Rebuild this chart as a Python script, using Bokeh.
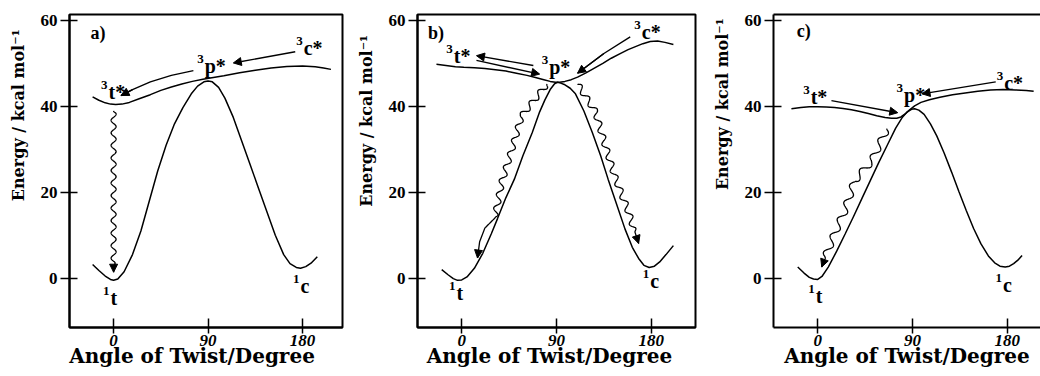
import numpy as np
from bokeh.plotting import figure
from bokeh.models import Range1d, FixedTicker, Arrow, NormalHead, LinearAxis
from bokeh.layouts import row
from bokeh.embed import file_html
from bokeh.resources import INLINE
from bokeh.core.properties import value

# ---------------- data ----------------
x_ticks = [0, 90, 180]
y_ticks = [0, 20, 40, 60]
x_label = "Angle of Twist/Degree"
y_label = "Energy / kcal mol\u207b\u00b9"
state_main = ["t*", "p*", "c*", "t", "c"]
state_sup = ["3", "3", "3", "1", "1"]

# panel a
a_s0_x = [-20, -14, -8, -3, 0, 4, 10, 18, 26, 34, 42, 50, 58, 66, 74, 80, 86, 90, 94, 100, 106, 114, 122, 130, 138, 146, 154, 162, 168, 174, 178, 183, 188, 194]
a_s0_y = [3.2, 1.8, 0.5, -0.3, -0.5, -0.2, 1.5, 5.5, 11, 18, 25, 31, 36, 39.8, 43, 44.8, 45.8, 46, 45.8, 44.5, 42, 37.5, 32, 26.5, 21, 15.5, 10, 5.5, 3.4, 2.5, 2.3, 2.7, 3.5, 5]
a_t1_x = [-20, -14, -8, -3, 2, 8, 15, 25, 35, 45, 55, 65, 75, 85, 95, 105, 120, 135, 150, 165, 180, 192, 200, 207]
a_t1_y = [42.3, 41.5, 40.9, 40.6, 40.5, 40.6, 41, 41.9, 42.8, 43.8, 44.6, 45.3, 45.9, 46.4, 46.8, 47.2, 47.9, 48.5, 49, 49.4, 49.5, 49.3, 49, 48.7]
a_arr1_x = [173, 114]            # 3c* -> 3p*
a_arr1_y = [52.8, 50.2]
a_arr2_x = [76, 55, 35, 18, 7]   # 3p* -> 3t*
a_arr2_y = [48.4, 47.3, 45.8, 44.0, 42.6]
a_wave_x = [0, 0]                # 3t* ~> 1t
a_wave_y = [39, 1.4]
a_lbl_x = [-4.8, 86.7, 181, -3, 178]
a_lbl_y = [43.5, 49.5, 53.7, -4.7, -1.9]

# panel b
b_s0_x = [-19, -13, -8, -4, 0, 5, 12, 20, 28, 34, 42, 50, 58, 67, 74, 79, 84, 88, 91, 94, 98, 103, 108, 116, 124, 132, 139, 147, 155, 162, 168, 173, 178, 183, 188, 194, 201]
b_s0_y = [2, 0.8, -0.1, -0.5, -0.4, 0.3, 2.3, 5.8, 10.3, 13.9, 18.8, 23.1, 28.5, 34, 38.8, 41.6, 44, 45.3, 45.7, 45.5, 45.1, 44.3, 43, 39, 34, 28.5, 23.1, 17.3, 11.5, 7.2, 4.6, 3, 2.5, 2.8, 3.8, 5.5, 7.6]
b_t1_x = [-24, -15, -6, 2, 12, 22, 32, 42, 52, 62, 70, 78, 84, 89, 93, 98, 104, 110, 118, 126, 134, 142, 150, 158, 165, 172, 179, 186, 193, 201]
b_t1_y = [49.9, 49.6, 49.3, 49.2, 49.1, 48.9, 48.6, 48.3, 47.8, 47.3, 46.8, 46.3, 45.9, 45.7, 45.7, 45.9, 46.3, 46.9, 47.9, 49.0, 50.1, 51.3, 52.3, 53.3, 54.0, 54.7, 55.2, 55.3, 55.0, 54.5]
b_arr1_x = [68, 14]              # 3p* -> 3t*
b_arr1_y = [49.6, 51.9]
b_arr2_x = [14, 74]              # 3t* -> 3p*
b_arr2_y = [50.8, 47.6]
b_arr3_x = [160, 135, 110]       # 3c* -> 3p*
b_arr3_y = [56.3, 52.4, 47.8]
b_wave1_x = [81, 56.8, 47.6, 38, 31.4, 22, 17, 15]
b_wave1_y = [45.3, 37.8, 30, 22.4, 14, 11.7, 8.5, 4.7]
b_wave2_x = [110, 127, 136, 146, 158, 168]
b_wave2_y = [45.3, 38.8, 31.2, 23.3, 15.7, 8.1]
b_lbl_x = [-7.6, 83, 171, -5, 179]
b_lbl_y = [51.9, 49.3, 57.5, -3.5, -0.7]

# panel c
c_s0_x = [-19, -13, -8, -4, 0, 4, 10, 18, 26, 34, 42, 50, 58, 66, 74, 80, 85, 89, 92, 96, 101, 107, 113, 120, 127, 134, 141, 148, 155, 162, 168, 173, 178, 182, 186, 190, 194]
c_s0_y = [2.6, 1.2, 0.2, -0.2, -0.3, 0.4, 2.6, 6.3, 10.3, 14.4, 18.6, 22.8, 27, 31, 35, 37.4, 38.8, 39.4, 39.5, 39.2, 38.2, 36, 33.2, 29.2, 24.8, 20.2, 15.8, 11.6, 8, 5.2, 3.6, 2.8, 2.6, 2.8, 3.4, 4.2, 5.3]
c_t1_x = [-25, -16, -8, 0, 8, 16, 24, 32, 40, 48, 56, 64, 70, 75, 79, 83, 87, 92, 98, 106, 116, 128, 140, 152, 164, 176, 188, 198, 205]
c_t1_y = [39.5, 39.8, 40, 40, 39.9, 39.8, 39.6, 39.3, 38.9, 38.4, 37.9, 37.5, 37.3, 37.3, 37.6, 38.3, 39.2, 40.2, 41, 41.6, 42.2, 42.8, 43.2, 43.6, 43.9, 44, 43.9, 43.8, 43.6]
c_arr1_x = [13, 76]              # 3t* -> 3p*
c_arr1_y = [41.4, 38.6]
c_arr2_x = [169, 99]             # 3c* -> 3p*
c_arr2_y = [45.8, 43]
c_wave_x = [65.7, 51.4, 35.2, 25.7, 16.2, 8.6, 3.8]
c_wave_y = [34.9, 27.4, 22.8, 15.8, 10.5, 5.8, 2.6]
c_lbl_x = [-6.7, 82, 177, -2, 176]
c_lbl_y = [42.3, 42.8, 45.6, -4.2, -1.6]

panel_names = ["a)", "b)", "c)"]
panel_name_x = [-22, -32, -20]
panel_name_y = [57.2, 57.2, 57.7]

# ---------------- drawing ----------------
SX, SY = 1.05, 4.28   # approx px per data unit (used only for the wiggle decoration)
SERIF = "DejaVu Serif"
LSERIF = "Liberation Serif"
NBSP = "\u00a0"


def wiggle(xs, ys, wavelength, amp, tail):
    px = np.asarray(xs, float) * SX
    py = np.asarray(ys, float) * SY
    seg = np.hypot(np.diff(px), np.diff(py))
    s = np.concatenate([[0.0], np.cumsum(seg)])
    L = s[-1]
    t = np.linspace(0, L, int(L * 3) + 2)
    qx = np.interp(t, s, px)
    qy = np.interp(t, s, py)
    dx = np.gradient(qx)
    dy = np.gradient(qy)
    n = np.hypot(dx, dy)
    nx, ny = -dy / n, dx / n
    env = np.clip((L - tail - t) / 4.0, 0, 1) * np.clip(t / 2.0, 0, 1)
    off = amp * np.sin(2 * np.pi * t / wavelength) * env
    return list((qx + nx * off) / SX), list((qy + ny * off) / SY)


def head():
    return NormalHead(size=8, fill_color="black", line_color="black", line_width=1)


def arrow(p, xs, ys):
    if len(xs) > 2:
        p.line(xs, ys, line_color="black", line_width=1.4)
    p.add_layout(Arrow(end=head(), x_start=xs[-2], y_start=ys[-2], x_end=xs[-1], y_end=ys[-1],
                       line_color="black", line_width=1.4))


def wave_arrow(p, xs, ys, wl, amp, tail):
    wx, wy = wiggle(xs, ys, wl, amp, tail)
    p.line(wx, wy, line_color="black", line_width=1.3)
    k = max(2, int(len(wx) * 0.03))
    p.add_layout(Arrow(end=head(), x_start=wx[-k], y_start=wy[-k], x_end=wx[-1], y_end=wy[-1],
                       line_color="black", line_width=1.3))


def make_panel(width, left, right, x_end, xpad, ypad, outline=True):
    p = figure(width=width, height=376, x_range=Range1d(-42, x_end), y_range=Range1d(-11.5, 61.5),
               output_backend="svg", toolbar_location=None,
               min_border_left=left, min_border_right=right, min_border_top=14, min_border_bottom=49)
    p.background_fill_color = "white"
    p.border_fill_color = "white"
    p.grid.visible = False
    xa = p.below[0]
    xa.ticker = FixedTicker(ticks=x_ticks)
    # trailing no-break spaces shift the centred title a little to the left, as in the original
    xa.axis_label = x_label + NBSP * xpad
    xa.axis_label_text_font = SERIF
    xa.axis_label_text_font_style = "bold"
    xa.axis_label_text_font_size = "20px"
    xa.axis_label_text_color = "black"
    xa.axis_label_standoff = -5
    xa.major_label_text_font = LSERIF
    xa.major_label_text_font_style = "bold italic"
    xa.major_label_text_font_size = "17px"
    xa.major_label_text_color = "black"
    xa.major_label_standoff = 1
    xa.major_tick_in = 9
    xa.major_tick_out = 6
    xa.major_tick_line_width = 1.5
    xa.major_tick_line_color = "black"
    xa.minor_tick_line_color = None
    xa.axis_line_width = 2
    xa.axis_line_color = "black"
    ya = p.left[0]
    ya.ticker = FixedTicker(ticks=y_ticks)
    # leading no-break spaces push the centred title toward the top, as in the original
    ya.axis_label = NBSP * ypad + y_label
    ya.axis_label_text_font = SERIF
    ya.axis_label_text_font_style = "bold"
    ya.axis_label_text_font_size = "16px"
    ya.axis_label_text_color = "black"
    ya.axis_label_standoff = 10
    ya.major_label_text_font = LSERIF
    ya.major_label_text_font_style = "bold"
    ya.major_label_text_font_size = "17px"
    ya.major_label_text_color = "black"
    ya.major_label_standoff = 3
    ya.major_tick_in = 8
    ya.major_tick_out = 9
    ya.major_tick_line_width = 1.5
    ya.major_tick_line_color = "black"
    ya.minor_tick_line_color = None
    ya.axis_line_width = 2
    ya.axis_line_color = "black"
    ya.major_label_orientation = "horizontal"
    if outline:
        p.outline_line_color = "black"
        p.outline_line_width = 2
        p.outline_line_alpha = 1.0
    else:
        p.outline_line_color = None
        top = LinearAxis(ticker=FixedTicker(ticks=[]), major_label_text_font_size="0px",
                         axis_line_width=2, axis_line_color="black",
                         major_tick_line_color=None, minor_tick_line_color=None,
                         major_tick_out=0, major_tick_in=0, major_label_standoff=0)
        p.add_layout(top, "above")
    return p


def add_labels(p, lx, ly, i):
    p.text(x=lx, y=ly, text=state_main, text_font=value(LSERIF), text_font_style="bold",
           text_font_size="20px", text_align="left", text_baseline="middle", text_color="black")
    p.text(x=lx, y=ly, text=state_sup, text_font=value(LSERIF), text_font_style="bold",
           text_font_size="13px", text_align="right", text_baseline="middle", text_color="black",
           x_offset=-1, y_offset=-7)
    p.text(x=[panel_name_x[i]], y=[panel_name_y[i]], text=[panel_names[i]], text_font=value(LSERIF),
           text_font_style="bold", text_font_size="18px", text_align="left", text_baseline="middle",
           text_color="black")


# panel a
pa = make_panel(347, 69, 5, 218, 4, 20)
pa.line(a_s0_x, a_s0_y, line_color="black", line_width=1.5)
pa.line(a_t1_x, a_t1_y, line_color="black", line_width=1.5)
arrow(pa, a_arr1_x, a_arr1_y)
arrow(pa, a_arr2_x, a_arr2_y)
wave_arrow(pa, a_wave_x, a_wave_y, 12.5, 2.5, 6)
add_labels(pa, a_lbl_x, a_lbl_y, 0)

# panel b
pb = make_panel(353, 70, 5, 222, 2, 18)
pb.line(b_s0_x, b_s0_y, line_color="black", line_width=1.5)
pb.line(b_t1_x, b_t1_y, line_color="black", line_width=1.5)
arrow(pb, b_arr1_x, b_arr1_y)
arrow(pb, b_arr2_x, b_arr2_y)
arrow(pb, b_arr3_x, b_arr3_y)
wave_arrow(pb, b_wave1_x, b_wave1_y, 14, 3, 45)
wave_arrow(pb, b_wave2_x, b_wave2_y, 14, 3, 12)
add_labels(pb, b_lbl_x, b_lbl_y, 1)

# panel c
pc = make_panel(340, 73, 0, 211.5, 0, 24, outline=False)
pc.line(c_s0_x, c_s0_y, line_color="black", line_width=1.5)
pc.line(c_t1_x, c_t1_y, line_color="black", line_width=1.5)
arrow(pc, c_arr1_x, c_arr1_y)
arrow(pc, c_arr2_x, c_arr2_y)
wave_arrow(pc, c_wave_x, c_wave_y, 18, 3.5, 8)
add_labels(pc, c_lbl_x, c_lbl_y, 2)

layout = row(pa, pb, pc)
open("out.html", "w").write(file_html(layout, INLINE))
